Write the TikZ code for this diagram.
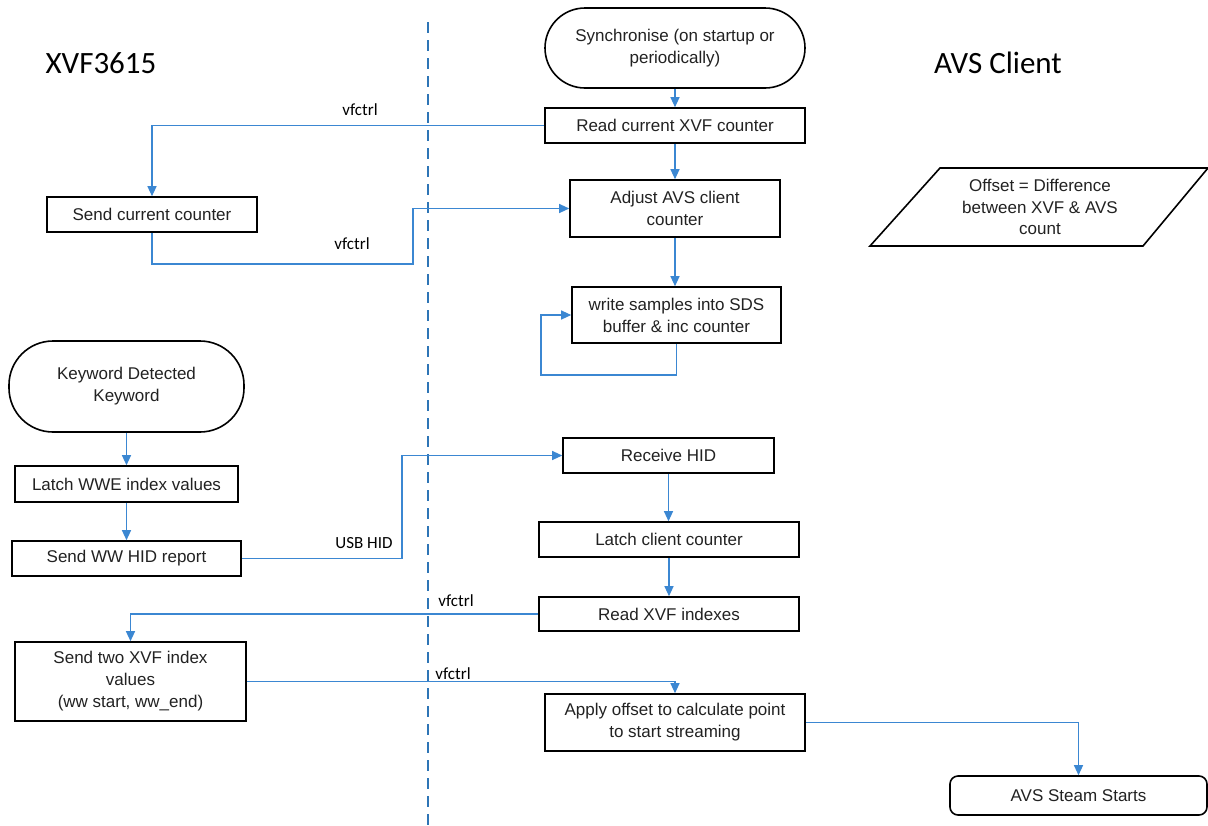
\documentclass[tikz,border=0pt]{standalone}
\usepackage{fontspec}
\setmainfont{Liberation Sans}
\newfontfamily\calib{Carlito}
\usetikzlibrary{arrows.meta}
\definecolor{connblue}{HTML}{3B87D2}
\definecolor{dashblue}{HTML}{2E75B6}
\definecolor{txt}{HTML}{222222}
\begin{document}
\begin{tikzpicture}[x=1pt,y=-1pt,
  box/.style={draw=black,line width=1.6pt,rectangle,inner sep=0pt,align=center,
    font=\fontsize{17}{22}\selectfont,text=txt},
  term/.style={box,rounded corners=40pt},
  conn/.style={draw=connblue,line width=1.2pt,-{Triangle[length=10pt,width=9pt]}},
  lbl/.style={font=\calib\fontsize{17}{20}\selectfont,text=black,inner sep=0pt},
  ttl/.style={font=\calib\fontsize{31}{36}\selectfont,text=black,inner sep=0pt},
  dashline/.style={draw=dashblue,line width=2.5pt,dash pattern=on 11pt off 7pt}]
\useasboundingbox (0,0) rectangle (1208,825);
\fill[white] (0,0) rectangle (1208,825);

% lane divider
\coordinate (dtop) at (428,22);
\coordinate (dbot) at (428,825);
\draw[dashline] (dtop) -- (dbot);

% titles
\node[ttl] (t1) at (101,63) {XVF3615};
\node[ttl] (t2) at (998,63) {AVS Client};

% AVS client side
\node[term,minimum width=260pt,minimum height=80pt] (sync) at (675,48) {Synchronise (on startup or\\periodically)};
\node[box,minimum width=260pt,minimum height=35pt] (read) at (675,125.5) {Read current XVF counter};
\node[box,minimum width=210pt,minimum height=57pt] (adjust) at (675,208.5) {Adjust AVS client\\counter};
\node[box,minimum width=209pt,minimum height=56pt] (write) at (676.5,315) {write samples into SDS\\buffer \& inc counter};
\node[box,minimum width=211pt,minimum height=35pt] (receive) at (668.5,455.5) {Receive HID};
\node[box,minimum width=260pt,minimum height=35pt] (latchcli) at (669,539.5) {Latch client counter};
\node[box,minimum width=260pt,minimum height=34pt] (readidx) at (669,614) {Read XVF indexes};
\node[box,minimum width=260pt,minimum height=57pt] (apply) at (675,722.5) {Apply offset to calculate point\\to start streaming};
\node[box,rounded corners=8pt,minimum width=257pt,minimum height=39pt] (steam) at (1078.5,795.5) {AVS Steam Starts};

% offset parallelogram
\draw[line width=1.6pt,black] (940,168) -- (1208,168) -- (1143,246) -- (870,246) -- cycle;
\node[align=center,font=\fontsize{17}{21.5}\selectfont,text=txt,inner sep=0pt] (offset) at (1040,207) {Offset = Difference\\between XVF \& AVS\\count};

% XVF side
\node[box,minimum width=210pt,minimum height=35pt] (sendcur) at (152,214.5) {Send current counter};
\node[term,minimum width=235pt,minimum height=91pt,rounded corners=44pt] (keyword) at (126.5,386.5) {Keyword Detected\\Keyword};
\node[box,minimum width=223pt,minimum height=36pt] (latchwwe) at (126.5,484) {Latch WWE index values};
\node[box,minimum width=229pt,minimum height=35pt] (sendww) at (126.5,558.5) {Send WW HID report};
\node[box,minimum width=231pt,minimum height=79pt] (sendtwo) at (130.5,681.5) {Send two XVF index\\values\\(ww start, ww\_end)};

% connectors
\draw[conn] (sync) -- (read);
\draw[conn] (read) -- (adjust);
\draw[conn] (adjust.south) -- (adjust.south |- write.north);
\coordinate (loopc) at (541,375);
\draw[conn] (write.south) |- (loopc) |- (write.west);
\draw[conn] (read.west) -| (sendcur.north);
\coordinate (j1) at (413,264);
\draw[conn] (sendcur.south) |- (j1) |- (adjust.west);
\draw[conn] (keyword) -- (latchwwe);
\draw[conn] (latchwwe) -- (sendww);
\coordinate (j2) at (402,558.5);
\draw[conn] (sendww.east) -- (j2) |- (receive.west);
\draw[conn] (receive.south) -- (receive.south |- latchcli.north);
\draw[conn] (latchcli) -- (readidx);
\draw[conn] (readidx.west) -| (sendtwo.north);
\draw[conn] (sendtwo.east) -| (apply.north);
\draw[conn] (apply.east) -| (steam.north);

% connector labels
\node[lbl] (l1) at (360,110) {vfctrl};
\node[lbl] (l2) at (352,244) {vfctrl};
\node[lbl] (l3) at (364,543) {USB HID};
\node[lbl] (l4) at (456,601) {vfctrl};
\node[lbl] (l5) at (453,674) {vfctrl};
\end{tikzpicture}
\end{document}
